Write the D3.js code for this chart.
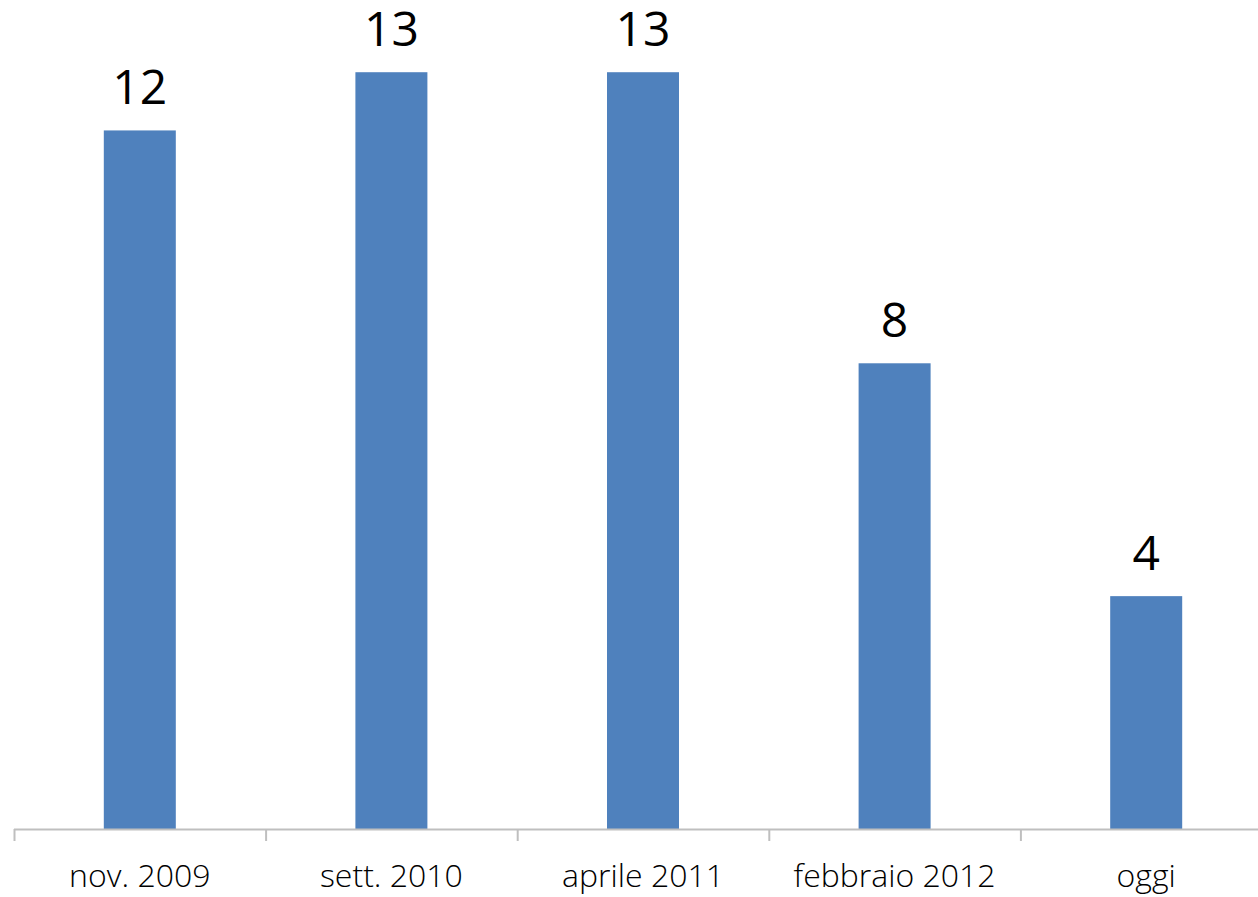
<!DOCTYPE html>
<html><head><meta charset="utf-8">
<script src="https://cdn.jsdelivr.net/npm/d3@7"></script>
<style>html,body{margin:0;padding:0;background:#fff;}svg{display:block;}</style>
</head><body>
<svg id="chart" width="1258" height="897"></svg>
<script>
const categories = ["nov. 2009", "sett. 2010", "aprile 2011", "febbraio 2012", "oggi"];
const values = [12, 13, 13, 8, 4];

const svg = d3.select("#chart");
const x = d3.scaleBand().domain(categories).range([14, 1272]).paddingInner(0).paddingOuter(0);
const y = d3.scaleLinear().domain([0, 14]).range([829, 14]);
const barW = 72;

svg.selectAll("rect.bar").data(values).join("rect")
  .attr("class", "bar")
  .attr("x", (d, i) => x(categories[i]) + x.bandwidth() / 2 - barW / 2)
  .attr("width", barW)
  .attr("y", d => y(d))
  .attr("height", d => y(0) - y(d))
  .attr("fill", "#4F81BD");

// axis
const axisG = svg.append("g").attr("transform", `translate(0,${y(0)})`);
axisG.append("line").attr("x1", 14).attr("x2", 1258).attr("y1", 0.5).attr("y2", 0.5)
  .attr("stroke", "#BFBFBF").attr("stroke-width", 2);
const tickPos = categories.map(c => x(c));
axisG.selectAll("line.tick").data(tickPos).join("line")
  .attr("class", "tick")
  .attr("x1", d => d + 0.5).attr("x2", d => d + 0.5)
  .attr("y1", 0).attr("y2", 12)
  .attr("stroke", "#BFBFBF").attr("stroke-width", 2);

svg.selectAll("text.cat").data(categories).join("text")
  .attr("class", "cat")
  .attr("x", d => x(d) + x.bandwidth() / 2)
  .attr("y", 887)
  .attr("text-anchor", "middle")
  .attr("font-family", "Open Sans")
  .attr("font-weight", 300)
  .attr("font-size", 32)
  .attr("fill", "#000")
  .text(d => d);

svg.selectAll("text.val").data(values).join("text")
  .attr("class", "val")
  .attr("x", (d, i) => x(categories[i]) + x.bandwidth() / 2)
  .attr("y", d => y(d) - 26)
  .attr("text-anchor", "middle")
  .attr("font-family", "Open Sans")
  .attr("font-size", 48)
  .attr("fill", "#000")
  .text(d => d);
</script>
</body></html>
